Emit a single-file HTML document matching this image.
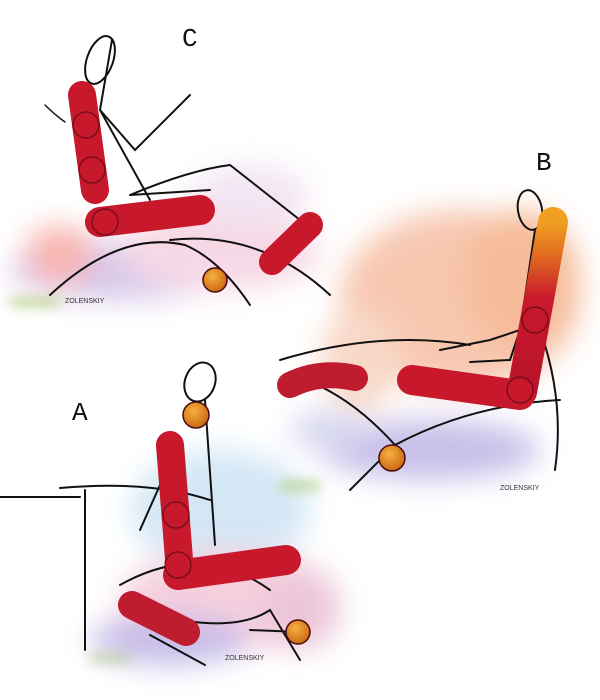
<!DOCTYPE html>
<html><head><meta charset="utf-8"><style>body{margin:0;background:#fff}svg{display:block}</style></head>
<body>
<svg width="600" height="700" viewBox="0 0 600 700" xmlns="http://www.w3.org/2000/svg">
<defs>
<filter id="b" x="-30%" y="-30%" width="160%" height="160%"><feGaussianBlur stdDeviation="14"/></filter>
<filter id="b2" x="-30%" y="-30%" width="160%" height="160%"><feGaussianBlur stdDeviation="6"/></filter>
<linearGradient id="og" x1="0" y1="0" x2="0" y2="1"><stop offset="0" stop-color="#f0a020"/><stop offset="0.2" stop-color="#e06a20"/><stop offset="0.45" stop-color="#c8182c"/><stop offset="1" stop-color="#b8142a"/></linearGradient>
<radialGradient id="ball" cx="0.4" cy="0.35" r="0.7"><stop offset="0" stop-color="#f7b040"/><stop offset="1" stop-color="#c86410"/></radialGradient>
</defs>
<g filter="url(#b)" opacity="0.55">
<ellipse cx="120" cy="270" rx="110" ry="30" fill="#b49ad8"/>
<ellipse cx="60" cy="255" rx="35" ry="30" fill="#f07a70"/>
<ellipse cx="220" cy="250" rx="100" ry="40" fill="#f0b8d0"/>
<ellipse cx="250" cy="195" rx="60" ry="30" fill="#e8d0e8"/>
</g>
<g filter="url(#b)" opacity="0.7">
<ellipse cx="460" cy="300" rx="120" ry="90" fill="#f4b090"/>
<ellipse cx="520" cy="280" rx="60" ry="70" fill="#f3a070"/>
<ellipse cx="360" cy="360" rx="40" ry="50" fill="#f6c8b0"/>
<ellipse cx="430" cy="450" rx="110" ry="30" fill="#b0a4e0"/>
<ellipse cx="330" cy="430" rx="40" ry="20" fill="#c8c8ec"/>
</g>
<g filter="url(#b)" opacity="0.6">
<ellipse cx="220" cy="510" rx="90" ry="60" fill="#b8d8f0"/>
<ellipse cx="230" cy="600" rx="110" ry="50" fill="#f0b0c8"/>
<ellipse cx="170" cy="640" rx="80" ry="25" fill="#a090d8"/>
<ellipse cx="300" cy="610" rx="40" ry="40" fill="#e0a0c0"/>
</g>
<g filter="url(#b2)" opacity="0.7">
<rect x="10" y="298" width="50" height="8" fill="#9bbf5a"/>
<rect x="280" y="482" width="40" height="8" fill="#9bbf5a"/>
<rect x="90" y="655" width="40" height="6" fill="#9bbf5a"/>
</g>
<g font-family="Liberation Mono, monospace" font-size="26" fill="#111">
<text x="182" y="46">C</text><text x="536" y="170">B</text><text x="72" y="420">A</text>
</g>
<g stroke="#111" fill="none" stroke-width="2" stroke-linecap="round">
<ellipse cx="100" cy="60" rx="13" ry="25" transform="rotate(20 100 60)"/>
<path d="M112 40 L100 110 L150 200 M100 110 L135 150 L190 95 M130 195 Q190 170 230 165 L300 220 M130 195 L210 190 M50 295 Q120 230 185 245 Q220 260 250 305 M170 240 Q260 230 330 295"/>
<path d="M45 105 Q55 115 65 122" stroke-width="1.5"/>
<ellipse cx="530" cy="210" rx="12" ry="20" transform="rotate(-10 530 210)"/>
<path d="M535 230 L520 330 L490 340 L440 350 M520 330 L510 360 L470 362 M280 360 Q380 330 470 345 M300 378 Q350 395 395 445 Q470 405 560 400 M395 445 L350 490 M540 330 Q565 400 555 470"/>
<ellipse cx="200" cy="382" rx="15" ry="20" transform="rotate(20 200 382)"/>
<path d="M205 400 L215 545 M180 440 L140 530 M60 488 Q150 480 210 500 M0 497 L80 497 M85 490 L85 650 M120 585 Q200 540 270 590 M180 620 Q240 630 270 610 L300 660 M150 635 L205 665 M250 630 L300 632"/>
</g>
<g stroke="#4a0a10" stroke-width="1.5">
<line x1="82" y1="95" x2="95" y2="190" stroke="#c8182c" stroke-width="28" stroke-linecap="round"/>
<line x1="100" y1="222" x2="200" y2="210" stroke="#c8182c" stroke-width="30" stroke-linecap="round"/>
<line x1="310" y1="225" x2="272" y2="262" stroke="#c8182c" stroke-width="26" stroke-linecap="round"/>
<circle cx="215" cy="280" r="12" fill="url(#ball)"/>
<line x1="553" y1="222" x2="522" y2="392" stroke="url(#og)" stroke-width="30" stroke-linecap="round"/>
<line x1="412" y1="380" x2="520" y2="395" stroke="#c8182c" stroke-width="30" stroke-linecap="round"/>
<path d="M290 385 Q320 370 355 378" stroke="#c01c30" stroke-width="26" stroke-linecap="round" fill="none"/>
<circle cx="392" cy="458" r="13" fill="url(#ball)"/>
<circle cx="196" cy="415" r="13" fill="url(#ball)"/>
<line x1="170" y1="445" x2="180" y2="572" stroke="#c8182c" stroke-width="28" stroke-linecap="round"/>
<line x1="178" y1="575" x2="286" y2="560" stroke="#c8182c" stroke-width="30" stroke-linecap="round"/>
<line x1="132" y1="605" x2="186" y2="632" stroke="#c01c30" stroke-width="28" stroke-linecap="round"/>
<circle cx="298" cy="632" r="12" fill="url(#ball)"/>
</g>
<g stroke="#5a0a14" stroke-width="1.5" fill="none" opacity="0.7">
<circle cx="86" cy="125" r="13"/><circle cx="92" cy="170" r="13"/>
<circle cx="105" cy="222" r="13"/><circle cx="520" cy="390" r="13"/><circle cx="535" cy="320" r="13"/>
<circle cx="178" cy="565" r="13"/><circle cx="176" cy="515" r="13"/>
</g>
<g font-family="Liberation Sans, sans-serif" font-size="7" fill="#333">
<text x="65" y="303">ZOLENSKIY</text><text x="500" y="490">ZOLENSKIY</text><text x="225" y="660">ZOLENSKIY</text>
</g>
</svg>
</body></html>
